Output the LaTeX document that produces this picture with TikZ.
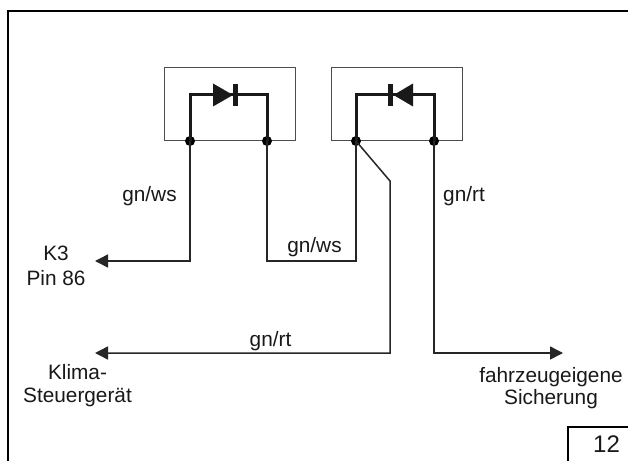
\documentclass[tikz,border=0pt]{standalone}
\usepackage{fontspec}
\setmainfont{Liberation Sans}
\usetikzlibrary{arrows.meta}
\tikzset{
  x=1pt,y=1pt,
  frameline/.style={draw=black,line width=2.2pt},
  boxline/.style={draw=black!70,line width=1pt},
  wire/.style={draw=black!85,line width=1.5pt,line join=miter},
  heavywire/.style={draw=black!90,line width=3pt,line join=miter},
  arrowwire/.style={wire,-{Triangle[length=13pt,width=13pt]}},
  dot/.style={circle,fill=black,inner sep=0pt,minimum size=10pt},
  lbl/.style={inner sep=0pt,font=\fontsize{20.8}{25}\selectfont,align=center,text=black!90},
  tight/.style={lbl,font=\fontsize{20.8}{22.7}\selectfont},
  one/.style={lbl,anchor=base},
}
\begin{document}
\begin{tikzpicture}
\useasboundingbox (0,0) rectangle (628,461);
\fill[white] (0,0) rectangle (628,461);
% frame
\draw[frameline] (7.7,0) -- (7.7,450) -- (628,450);
\draw[frameline] (568,0) -- (568,34) -- (628,34);
\node[one,font=\fontsize{24}{26}\selectfont] (num) at (606.5,9) {12};
% boxes
\node[boxline,minimum width=131pt,minimum height=73pt,inner sep=0pt] (box1) at (229.5,356.5) {};
\node[boxline,minimum width=131pt,minimum height=73pt,inner sep=0pt] (box2) at (396.5,356.5) {};
% terminals
\node[dot] (d1) at (190,320) {};
\node[dot] (d2) at (267,320) {};
\node[dot] (d3) at (356,320) {};
\node[dot] (d4) at (434,320) {};
% corners
\coordinate (t1) at (190,366);
\coordinate (t2) at (267,366);
\coordinate (t3) at (356,366);
\coordinate (t4) at (434,366);
\coordinate (w1) at (190,200);
\coordinate (w2a) at (267,200);
\coordinate (w2b) at (356,200);
\coordinate (k1) at (390,280);
\coordinate (k2) at (390,108);
\coordinate (f1) at (434,108);
\coordinate (a1) at (95,200);
\coordinate (a2) at (95,108);
\coordinate (a3) at (563,108);
% thick diode loops
\draw[heavywire] (d1.center) -- (t1) -- (t2) -- (d2.center);
\draw[heavywire] (d3.center) -- (t3) -- (t4) -- (d4.center);
\fill[black!90] (213,377.5) -- (233,366) -- (213,354.5) -- cycle;
\fill[black!90] (233,377) rectangle (238,354.5);
\fill[black!90] (413,377.5) -- (393.5,366) -- (413,354.5) -- cycle;
\fill[black!90] (388,377) rectangle (393,354.5);
% thin wires
\draw[arrowwire] (d1.center) -- (w1) -- (a1);
\draw[wire] (d2.center) -- (w2a) -- (w2b) -- (d3.center);
\draw[arrowwire] (d3.center) -- (k1) -- (k2) -- (a2);
\draw[arrowwire] (d4.center) -- (f1) -- (a3);
% labels
\node[one] (l1) at (149.5,259) {gn/ws};
\node[one] (l2) at (314.5,209) {gn/ws};
\node[one] (l3) at (464,259) {gn/rt};
\node[one] (l4) at (270.5,115) {gn/rt};
\node[lbl] (l5) at (56,195) {K3\\Pin 86};
\node[tight] (l6) at (77.5,75.5) {Klima-\\Steuergerät};
\node[tight] (l7) at (551,73) {fahrzeugeigene\\Sicherung};
\end{tikzpicture}
\end{document}
